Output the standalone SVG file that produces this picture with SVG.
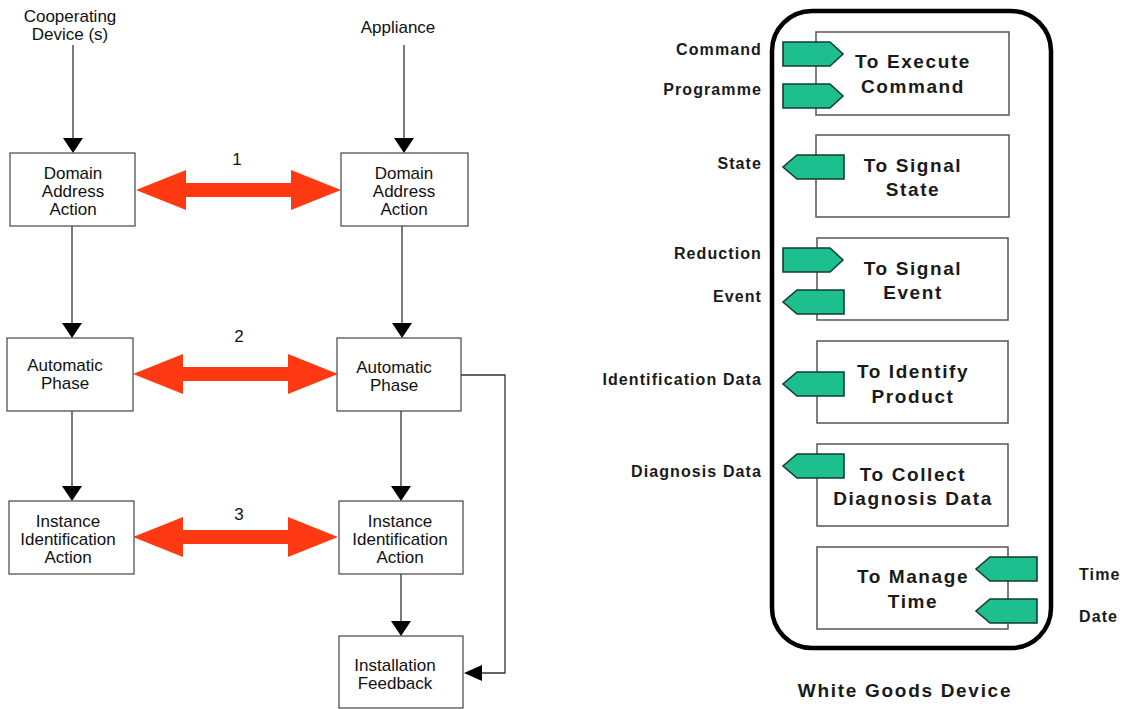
<svg xmlns="http://www.w3.org/2000/svg" width="1132" height="709" viewBox="0 0 1132 709">
  <defs>
    <style>
      .box { fill: #ffffff; stroke: #444444; stroke-width: 1.2; }
      .fbox { fill: #ffffff; stroke: #555555; stroke-width: 1.5; }
      .t { font-family: "Liberation Sans", Arial, sans-serif; font-size: 17px; fill: #111111; text-anchor: middle; }
      .ft { font-family: "Liberation Sans", Arial, sans-serif; font-size: 19px; font-weight: bold; letter-spacing: 1.6px; fill: #1a1a1a; text-anchor: middle; }
      .lbl { font-family: "Liberation Sans", Arial, sans-serif; font-size: 16px; font-weight: bold; letter-spacing: 1.1px; fill: #1a1a1a; text-anchor: end; }
      .lbl-s { font-family: "Liberation Sans", Arial, sans-serif; font-size: 16px; font-weight: bold; letter-spacing: 1.1px; fill: #1a1a1a; text-anchor: start; }
      .wire { fill: none; stroke: #333333; stroke-width: 1.3; }
      .head { fill: #000000; }
      .dbl { fill: #ff3a12; }
      .tag { fill: #1dbf8f; stroke: #163d30; stroke-width: 1.6; stroke-linejoin: miter; }
    </style>
    <!-- double-headed exchange arrow, 205 px long, centred on y=0 -->
    <path id="dblArrow" d="M0,0 L50,-20 L50,-7 L155,-7 L155,-20 L205,0 L155,20 L155,7 L50,7 L50,20 Z"/>
    <!-- interface tags: outgoing (points right) and incoming (points left) -->
    <path id="tagOut" d="M0,0 L47,0 L60,12 L47,24 L0,24 Z"/>
    <path id="tagIn" d="M14,0 L61,0 L61,24 L14,24 L0,12 Z"/>
  </defs>

  <!-- ===== Installation sequence ===== -->
  <text class="t" x="70" y="22">Cooperating</text>
  <text class="t" x="70" y="40">Device (s)</text>
  <text class="t" x="398" y="33">Appliance</text>

  <g id="connectors">
    <!-- cooperating device column -->
    <line class="wire" x1="73" y1="45" x2="73" y2="140"/>
    <polygon class="head" points="63,138 83,138 73,153"/>
    <line class="wire" x1="72" y1="226" x2="72" y2="325"/>
    <polygon class="head" points="62,323 82,323 72,338"/>
    <line class="wire" x1="72" y1="411" x2="72" y2="488"/>
    <polygon class="head" points="62,486 82,486 72,501"/>
    <!-- appliance column -->
    <line class="wire" x1="404" y1="45" x2="404" y2="140"/>
    <polygon class="head" points="394,138 414,138 404,153"/>
    <line class="wire" x1="402" y1="226" x2="402" y2="325"/>
    <polygon class="head" points="392,323 412,323 402,338"/>
    <line class="wire" x1="401" y1="411" x2="401" y2="488"/>
    <polygon class="head" points="391,486 411,486 401,501"/>
    <line class="wire" x1="401" y1="574" x2="401" y2="623"/>
    <polygon class="head" points="391,621 411,621 401,636"/>
    <!-- feedback loop from automatic phase -->
    <polyline class="wire" points="461,375 505,375 505,673 480,673"/>
    <polygon class="head" points="482,665 482,681 464,673"/>
    <!-- exchanges between device and appliance -->
    <use href="#dblArrow" class="dbl" transform="translate(136,190)"/>
    <use href="#dblArrow" class="dbl" transform="translate(133,374)"/>
    <use href="#dblArrow" class="dbl" transform="translate(133,537)"/>
    <text class="t" x="237" y="165">1</text>
    <text class="t" x="239" y="342">2</text>
    <text class="t" x="239" y="520">3</text>
  </g>

  <g id="dev-domain">
    <rect class="box" x="10" y="153" width="125" height="73"/>
    <text class="t" x="73" y="179">Domain</text>
    <text class="t" x="73" y="197">Address</text>
    <text class="t" x="73" y="215">Action</text>
  </g>
  <g id="app-domain">
    <rect class="box" x="341" y="153" width="127" height="73"/>
    <text class="t" x="404" y="179">Domain</text>
    <text class="t" x="404" y="197">Address</text>
    <text class="t" x="404" y="215">Action</text>
  </g>
  <g id="dev-auto">
    <rect class="box" x="7" y="338" width="126" height="73"/>
    <text class="t" x="65" y="371">Automatic</text>
    <text class="t" x="65" y="389">Phase</text>
  </g>
  <g id="app-auto">
    <rect class="box" x="337" y="338" width="124" height="73"/>
    <text class="t" x="394" y="373">Automatic</text>
    <text class="t" x="394" y="391">Phase</text>
  </g>
  <g id="dev-instance">
    <rect class="box" x="9" y="501" width="125" height="73"/>
    <text class="t" x="68" y="527">Instance</text>
    <text class="t" x="68" y="545">Identification</text>
    <text class="t" x="68" y="563">Action</text>
  </g>
  <g id="app-instance">
    <rect class="box" x="339" y="501" width="124" height="73"/>
    <text class="t" x="400" y="527">Instance</text>
    <text class="t" x="400" y="545">Identification</text>
    <text class="t" x="400" y="563">Action</text>
  </g>
  <g id="app-feedback">
    <rect class="box" x="339" y="636" width="124" height="72"/>
    <text class="t" x="395" y="671">Installation</text>
    <text class="t" x="395" y="689">Feedback</text>
  </g>

  <!-- ===== White goods device functions ===== -->
  <g id="device">
    <rect x="772" y="11" width="279" height="637" rx="40" ry="40" fill="none" stroke="#000000" stroke-width="4.5"/>
    <text class="ft" x="905" y="697" style="letter-spacing:1.7px">White Goods Device</text>
  </g>

  <g id="fn-execute">
    <rect class="fbox" x="816" y="32" width="193" height="83"/>
    <text class="ft" x="913" y="68">To Execute</text>
    <text class="ft" x="913" y="93">Command</text>
    <use href="#tagOut" class="tag" x="783" y="42"/>
    <use href="#tagOut" class="tag" x="783" y="84"/>
    <text class="lbl" x="762" y="55">Command</text>
    <text class="lbl" x="762" y="95">Programme</text>
  </g>
  <g id="fn-state">
    <rect class="fbox" x="816" y="135" width="193" height="82"/>
    <text class="ft" x="913" y="172">To Signal</text>
    <text class="ft" x="913" y="196">State</text>
    <use href="#tagIn" class="tag" x="783" y="155"/>
    <text class="lbl" x="762" y="169">State</text>
  </g>
  <g id="fn-event">
    <rect class="fbox" x="817" y="238" width="191" height="82"/>
    <text class="ft" x="913" y="275">To Signal</text>
    <text class="ft" x="913" y="299">Event</text>
    <use href="#tagOut" class="tag" x="783" y="248"/>
    <use href="#tagIn" class="tag" x="783" y="290"/>
    <text class="lbl" x="762" y="259">Reduction</text>
    <text class="lbl" x="762" y="302">Event</text>
  </g>
  <g id="fn-identify">
    <rect class="fbox" x="817" y="341" width="191" height="82"/>
    <text class="ft" x="913" y="378">To Identify</text>
    <text class="ft" x="913" y="403">Product</text>
    <use href="#tagIn" class="tag" x="783" y="372"/>
    <text class="lbl" x="762" y="385">Identification Data</text>
  </g>
  <g id="fn-diagnosis">
    <rect class="fbox" x="817" y="444" width="191" height="82"/>
    <text class="ft" x="913" y="481">To Collect</text>
    <text class="ft" x="913" y="505">Diagnosis Data</text>
    <use href="#tagIn" class="tag" x="783" y="454"/>
    <text class="lbl" x="762" y="477">Diagnosis Data</text>
  </g>
  <g id="fn-time">
    <rect class="fbox" x="817" y="547" width="191" height="82"/>
    <text class="ft" x="913" y="583">To Manage</text>
    <text class="ft" x="913" y="608">Time</text>
    <use href="#tagIn" class="tag" x="976" y="557"/>
    <use href="#tagIn" class="tag" x="976" y="599"/>
    <text class="lbl-s" x="1079" y="580">Time</text>
    <text class="lbl-s" x="1079" y="622">Date</text>
  </g>
</svg>
